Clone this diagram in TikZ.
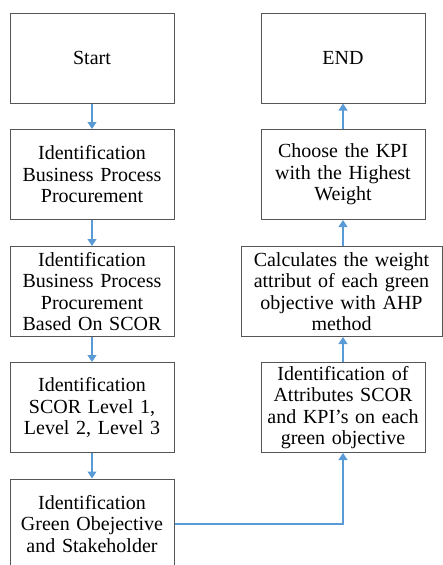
\documentclass[tikz,border=0pt]{standalone}
\usepackage{fontspec}
\setmainfont{Liberation Serif}
\usetikzlibrary{arrows.meta}
\definecolor{boxline}{RGB}{85,85,85}
\definecolor{arrowblue}{RGB}{91,155,213}
\begin{document}
\begin{tikzpicture}[x=1pt,y=-1pt,
  box/.style={draw=boxline,line width=1pt,inner sep=0pt,align=center,
    font=\fontsize{20}{21.5}\selectfont,minimum height=90pt},
  lbox/.style={box,minimum width=164pt,text width=160pt},
  rbox/.style={box,minimum width=164pt,text width=160pt},
  wbox/.style={box,minimum width=201pt,text width=197pt},
  flow/.style={draw=arrowblue,line width=1.2pt,-{Triangle[length=7pt,width=9pt]}}]
\useasboundingbox (0,0) rectangle (443,565);
\clip (0,0) rectangle (443,565);
% left column
\node[lbox] (start) at (92,58) {Start};
\node[lbox] (bp) at (92,174.5) {Identification\\Business Process\\Procurement};
\node[lbox] (scor) at (92,291.5) {Identification\\Business Process\\Procurement\\Based On SCOR};
\node[lbox] (lvl) at (92,407.5) {Identification\\SCOR Level 1,\\Level 2, Level 3};
\node[lbox] (green) at (92,524) {Identification\\Green Obejective\\and Stakeholder};
% right column
\node[rbox] (end) at (343,58) {END};
\node[rbox] (kpi) at (343,174.5) {Choose the KPI\\with the Highest\\Weight};
\node[wbox] (calc) at (341.5,291.5) {Calculates the weight\\attribut of each green\\objective with AHP\\method};
\node[rbox] (attr) at (343,407.5) {Identification of\\Attributes SCOR\\and KPI’s on each\\green objective};
% connectors
\draw[flow] (start) -- (bp);
\draw[flow] (bp) -- (scor);
\draw[flow] (scor) -- (lvl);
\draw[flow] (lvl) -- (green);
\draw[flow] (green.east) -| (attr.south);
\draw[flow] (attr) -- (calc.south -| attr.south);
\draw[flow] (calc.north -| kpi.south) -- (kpi);
\draw[flow] (kpi) -- (end);
\end{tikzpicture}
\end{document}
